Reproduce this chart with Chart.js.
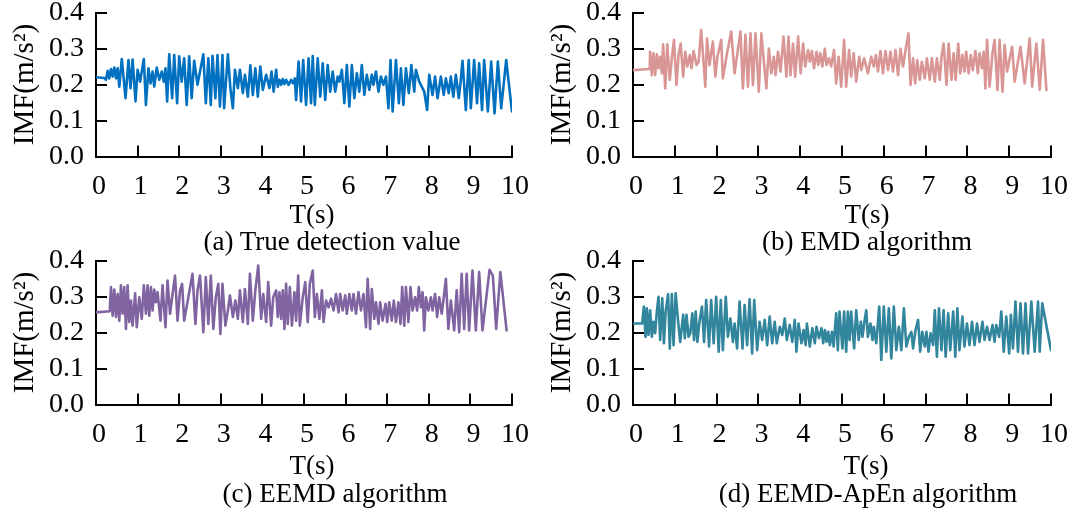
<!DOCTYPE html>
<html lang="en">
<head>
<meta charset="UTF-8">
<title>IMF comparison</title>
<script src="https://cdn.jsdelivr.net/npm/chart.js"></script>
<style>
    body { margin: 0; background: #fff; }
    #wrap { position: relative; width: 1073px; height: 512px; overflow: hidden; }
    canvas { position: absolute; }
    .lbl {
        position: absolute;
        transform: translate(-50%, -50%);
        font-family: "Liberation Serif", "Times New Roman", serif;
        color: #000;
        white-space: nowrap;
        line-height: 1;
    }
    .axis { font-size: 27px; }
    .cap { font-size: 27px; }
</style>
</head>
<body>
<div id="wrap">
    <canvas id="chartA" width="536" height="205" style="left:0;top:0"></canvas>
    <canvas id="chartB" width="536" height="205" style="left:537px;top:0"></canvas>
    <canvas id="chartC" width="536" height="205" style="left:0;top:248px"></canvas>
    <canvas id="chartD" width="536" height="205" style="left:537px;top:248px"></canvas>

    <div class="lbl axis" style="left:312px;top:214px">T(s)</div>
    <div class="lbl cap" style="left:332px;top:241px">(a) True detection value</div>
    <div class="lbl axis" style="left:867px;top:214px">T(s)</div>
    <div class="lbl cap" style="left:867px;top:241px">(b) EMD algorithm</div>
    <div class="lbl axis" style="left:312px;top:465px">T(s)</div>
    <div class="lbl cap" style="left:335px;top:493px">(c) EEMD algorithm</div>
    <div class="lbl axis" style="left:866px;top:465px">T(s)</div>
    <div class="lbl cap" style="left:868px;top:493px">(d) EEMD-ApEn algorithm</div>
</div>

<script>
    // (a) true detection value
    const timeA = [0, 0.20, 0.24, 0.28, 0.32, 0.36, 0.40, 0.44, 0.48, 0.52,
        0.56, 0.62, 0.71, 0.78, 0.83, 0.88, 0.95, 1.00, 1.06, 1.15,
        1.20, 1.26, 1.31, 1.36, 1.40, 1.46, 1.52, 1.58, 1.63, 1.67,
        1.71, 1.76, 1.83, 1.88, 1.95, 2.00, 2.06, 2.12, 2.18, 2.24,
        2.30, 2.36, 2.44, 2.58, 2.64, 2.70, 2.76, 2.80, 2.87, 2.92,
        2.98, 3.04, 3.08, 3.17, 3.23, 3.29, 3.34, 3.41, 3.46, 3.53,
        3.58, 3.65, 3.71, 3.77, 3.83, 3.89, 3.95, 4.01, 4.09, 4.17,
        4.22, 4.27, 4.33, 4.37, 4.41, 4.45, 4.49, 4.53, 4.57, 4.63,
        4.69, 4.74, 4.78, 4.81, 4.87, 4.93, 4.98, 5.05, 5.11, 5.17,
        5.21, 5.26, 5.33, 5.39, 5.45, 5.51, 5.57, 5.63, 5.69, 5.75,
        5.81, 5.85, 5.91, 5.97, 6.03, 6.09, 6.15, 6.21, 6.27, 6.33,
        6.39, 6.45, 6.51, 6.57, 6.63, 6.67, 6.73, 6.79, 6.85, 6.91,
        6.97, 7.03, 7.08, 7.13, 7.21, 7.28, 7.33, 7.39, 7.45, 7.52,
        7.58, 7.65, 7.69, 7.77, 7.89, 7.96, 8.01, 8.09, 8.15, 8.21,
        8.29, 8.36, 8.41, 8.48, 8.53, 8.59, 8.65, 8.72, 8.77, 8.81,
        8.89, 8.96, 9.01, 9.09, 9.16, 9.21, 9.28, 9.33, 9.42, 9.50,
        9.58, 9.66, 9.74, 9.86, 10.00];
    const imfTrue = [0.220, 0.218, 0.213, 0.238, 0.217, 0.243, 0.222, 0.247, 0.217, 0.245,
        0.194, 0.271, 0.162, 0.268, 0.190, 0.269, 0.153, 0.241, 0.208, 0.271,
        0.143, 0.245, 0.203, 0.236, 0.194, 0.247, 0.213, 0.236, 0.208, 0.245,
        0.153, 0.284, 0.162, 0.282, 0.148, 0.278, 0.208, 0.273, 0.143, 0.278,
        0.162, 0.266, 0.199, 0.284, 0.148, 0.273, 0.143, 0.280, 0.162, 0.282,
        0.139, 0.282, 0.134, 0.284, 0.190, 0.134, 0.241, 0.190, 0.241, 0.176,
        0.227, 0.166, 0.253, 0.171, 0.245, 0.166, 0.250, 0.185, 0.227, 0.190,
        0.236, 0.180, 0.241, 0.194, 0.213, 0.199, 0.215, 0.201, 0.213, 0.199,
        0.213, 0.203, 0.217, 0.157, 0.264, 0.153, 0.268, 0.143, 0.273, 0.148,
        0.279, 0.143, 0.273, 0.166, 0.259, 0.157, 0.254, 0.180, 0.236, 0.180,
        0.222, 0.208, 0.241, 0.148, 0.254, 0.139, 0.254, 0.162, 0.231, 0.180,
        0.254, 0.171, 0.227, 0.185, 0.227, 0.199, 0.236, 0.180, 0.222, 0.199,
        0.222, 0.134, 0.268, 0.125, 0.268, 0.148, 0.245, 0.143, 0.245, 0.176,
        0.254, 0.180, 0.241, 0.208, 0.180, 0.129, 0.227, 0.171, 0.222, 0.162,
        0.222, 0.171, 0.217, 0.176, 0.222, 0.166, 0.227, 0.162, 0.213, 0.266,
        0.129, 0.268, 0.134, 0.268, 0.148, 0.259, 0.129, 0.268, 0.125, 0.264,
        0.120, 0.264, 0.134, 0.268, 0.125];

    // (b) EMD algorithm
    const timeB = [0, 0.40, 0.41, 0.45, 0.49, 0.53, 0.57, 0.61, 0.65, 0.69,
        0.72, 0.77, 0.82, 0.88, 0.93, 0.98, 1.04, 1.09, 1.14, 1.20,
        1.25, 1.30, 1.36, 1.40, 1.45, 1.52, 1.57, 1.63, 1.73, 1.77,
        1.83, 1.91, 1.97, 2.02, 2.11, 2.15, 2.25, 2.35, 2.43, 2.57,
        2.63, 2.69, 2.75, 2.81, 2.87, 2.93, 3.01, 3.07, 3.19, 3.25,
        3.31, 3.37, 3.41, 3.47, 3.53, 3.60, 3.67, 3.72, 3.77, 3.83,
        3.88, 3.95, 4.01, 4.07, 4.12, 4.19, 4.23, 4.28, 4.33, 4.39,
        4.43, 4.48, 4.53, 4.59, 4.63, 4.69, 4.74, 4.81, 4.86, 4.92,
        4.98, 5.05, 5.10, 5.17, 5.22, 5.28, 5.34, 5.41, 5.46, 5.53,
        5.62, 5.70, 5.76, 5.81, 5.86, 5.92, 5.98, 6.04, 6.10, 6.16,
        6.22, 6.28, 6.34, 6.40, 6.46, 6.52, 6.59, 6.64, 6.70, 6.75,
        6.80, 6.86, 6.91, 6.98, 7.03, 7.10, 7.15, 7.22, 7.27, 7.34,
        7.38, 7.43, 7.50, 7.55, 7.62, 7.67, 7.72, 7.78, 7.83, 7.88,
        7.93, 7.97, 8.03, 8.08, 8.13, 8.19, 8.25, 8.29, 8.35, 8.39,
        8.43, 8.47, 8.53, 8.60, 8.65, 8.72, 8.77, 8.84, 8.89, 8.95,
        9.07, 9.13, 9.27, 9.37, 9.49, 9.55, 9.65, 9.73, 9.81, 9.89];
    const imfEmd = [0.240, 0.243, 0.291, 0.226, 0.287, 0.226, 0.284, 0.245, 0.277, 0.231,
        0.312, 0.189, 0.312, 0.213, 0.273, 0.324, 0.199, 0.282, 0.314, 0.222,
        0.291, 0.250, 0.282, 0.245, 0.293, 0.254, 0.263, 0.351, 0.194, 0.328,
        0.254, 0.319, 0.222, 0.277, 0.324, 0.217, 0.287, 0.347, 0.231, 0.347,
        0.189, 0.338, 0.194, 0.342, 0.199, 0.342, 0.180, 0.342, 0.189, 0.300,
        0.231, 0.277, 0.226, 0.291, 0.236, 0.333, 0.222, 0.333, 0.226, 0.314,
        0.222, 0.333, 0.231, 0.314, 0.250, 0.296, 0.263, 0.293, 0.245, 0.291,
        0.254, 0.287, 0.250, 0.299, 0.254, 0.273, 0.250, 0.296, 0.203, 0.277,
        0.194, 0.324, 0.194, 0.296, 0.222, 0.287, 0.208, 0.277, 0.240, 0.273,
        0.231, 0.277, 0.250, 0.282, 0.236, 0.293, 0.231, 0.293, 0.240, 0.291,
        0.236, 0.296, 0.226, 0.299, 0.250, 0.296, 0.342, 0.199, 0.273, 0.203,
        0.268, 0.213, 0.263, 0.217, 0.273, 0.213, 0.273, 0.208, 0.273, 0.213,
        0.277, 0.314, 0.199, 0.314, 0.213, 0.287, 0.213, 0.314, 0.231, 0.282,
        0.236, 0.291, 0.231, 0.282, 0.240, 0.293, 0.231, 0.287, 0.245, 0.291,
        0.189, 0.324, 0.194, 0.287, 0.324, 0.185, 0.324, 0.180, 0.310, 0.236,
        0.305, 0.208, 0.305, 0.203, 0.328, 0.194, 0.314, 0.185, 0.324, 0.185];

    // (c) EEMD algorithm
    const timeC = [0, 0.33, 0.36, 0.40, 0.44, 0.48, 0.52, 0.56, 0.60, 0.64,
        0.68, 0.72, 0.76, 0.80, 0.84, 0.88, 0.94, 0.98, 1.04, 1.10,
        1.15, 1.20, 1.24, 1.28, 1.32, 1.36, 1.40, 1.44, 1.48, 1.55,
        1.60, 1.67, 1.72, 1.78, 1.84, 1.90, 1.96, 2.02, 2.07, 2.12,
        2.32, 2.39, 2.44, 2.50, 2.58, 2.64, 2.70, 2.76, 2.82, 2.88,
        2.94, 2.99, 3.04, 3.11, 3.17, 3.22, 3.29, 3.35, 3.41, 3.46,
        3.53, 3.58, 3.65, 3.70, 3.77, 3.83, 3.90, 3.97, 4.02, 4.09,
        4.14, 4.21, 4.26, 4.33, 4.37, 4.41, 4.45, 4.49, 4.53, 4.57,
        4.61, 4.66, 4.71, 4.77, 4.81, 4.86, 4.90, 4.97, 5.03, 5.09,
        5.14, 5.21, 5.26, 5.31, 5.37, 5.43, 5.47, 5.53, 5.59, 5.65,
        5.71, 5.77, 5.83, 5.87, 5.93, 5.99, 6.03, 6.09, 6.15, 6.19,
        6.25, 6.31, 6.37, 6.43, 6.49, 6.53, 6.59, 6.63, 6.69, 6.73,
        6.79, 6.83, 6.89, 6.96, 7.00, 7.05, 7.11, 7.16, 7.21, 7.27,
        7.32, 7.36, 7.41, 7.45, 7.51, 7.56, 7.61, 7.67, 7.72, 7.76,
        7.81, 7.85, 7.89, 7.93, 7.99, 8.05, 8.09, 8.15, 8.20, 8.25,
        8.31, 8.37, 8.41, 8.47, 8.53, 8.61, 8.67, 8.73, 8.79, 8.85,
        8.91, 8.97, 9.05, 9.13, 9.21, 9.29, 9.46, 9.54, 9.62, 9.72,
        9.87];
    const imfEemd = [0.256, 0.259, 0.326, 0.247, 0.319, 0.243, 0.307, 0.233, 0.331, 0.252,
        0.326, 0.210, 0.331, 0.229, 0.289, 0.219, 0.309, 0.215, 0.298, 0.238,
        0.331, 0.252, 0.331, 0.247, 0.326, 0.261, 0.319, 0.284, 0.312, 0.233,
        0.331, 0.215, 0.344, 0.252, 0.307, 0.358, 0.233, 0.317, 0.335, 0.233,
        0.363, 0.224, 0.317, 0.358, 0.201, 0.354, 0.224, 0.358, 0.210, 0.298,
        0.335, 0.196, 0.335, 0.219, 0.261, 0.303, 0.243, 0.289, 0.238, 0.317,
        0.229, 0.321, 0.224, 0.363, 0.233, 0.317, 0.386, 0.238, 0.307, 0.229,
        0.340, 0.219, 0.298, 0.317, 0.243, 0.312, 0.238, 0.317, 0.210, 0.335,
        0.224, 0.326, 0.219, 0.312, 0.233, 0.358, 0.219, 0.298, 0.340, 0.229,
        0.335, 0.372, 0.243, 0.307, 0.238, 0.317, 0.229, 0.289, 0.270, 0.294,
        0.261, 0.307, 0.256, 0.307, 0.261, 0.303, 0.252, 0.307, 0.261, 0.307,
        0.252, 0.312, 0.261, 0.307, 0.215, 0.349, 0.210, 0.321, 0.238, 0.284,
        0.224, 0.284, 0.233, 0.280, 0.229, 0.284, 0.233, 0.289, 0.229, 0.284,
        0.224, 0.326, 0.219, 0.326, 0.229, 0.326, 0.261, 0.298, 0.261, 0.326,
        0.270, 0.312, 0.206, 0.298, 0.261, 0.298, 0.261, 0.307, 0.243, 0.298,
        0.252, 0.307, 0.349, 0.210, 0.289, 0.206, 0.317, 0.201, 0.363, 0.210,
        0.363, 0.206, 0.372, 0.206, 0.368, 0.206, 0.374, 0.358, 0.210, 0.368,
        0.206];

    // (d) EEMD-ApEn algorithm
    const timeD = [0, 0.22, 0.26, 0.30, 0.33, 0.37, 0.41, 0.45, 0.49, 0.53,
        0.57, 0.61, 0.65, 0.70, 0.74, 0.78, 0.84, 0.88, 0.93, 0.97,
        1.02, 1.08, 1.13, 1.20, 1.24, 1.28, 1.33, 1.37, 1.42, 1.46,
        1.50, 1.54, 1.59, 1.65, 1.70, 1.75, 1.82, 1.87, 1.93, 1.99,
        2.05, 2.10, 2.15, 2.22, 2.27, 2.33, 2.39, 2.43, 2.49, 2.55,
        2.62, 2.67, 2.73, 2.79, 2.85, 2.90, 2.97, 3.03, 3.09, 3.15,
        3.21, 3.27, 3.33, 3.39, 3.44, 3.51, 3.57, 3.63, 3.68, 3.75,
        3.81, 3.87, 3.91, 3.96, 4.03, 4.08, 4.13, 4.16, 4.23, 4.29,
        4.35, 4.39, 4.45, 4.51, 4.55, 4.59, 4.63, 4.67, 4.71, 4.76,
        4.80, 4.86, 4.90, 4.94, 5.01, 5.05, 5.10, 5.14, 5.18, 5.22,
        5.29, 5.34, 5.40, 5.45, 5.49, 5.53, 5.58, 5.62, 5.68, 5.73,
        5.76, 5.82, 5.89, 5.94, 6.00, 6.06, 6.12, 6.18, 6.24, 6.30,
        6.36, 6.42, 6.48, 6.54, 6.60, 6.66, 6.70, 6.76, 6.82, 6.87,
        6.92, 6.98, 7.02, 7.07, 7.12, 7.18, 7.22, 7.27, 7.32, 7.38,
        7.43, 7.48, 7.54, 7.59, 7.66, 7.71, 7.76, 7.81, 7.88, 7.93,
        7.99, 8.05, 8.11, 8.17, 8.23, 8.29, 8.36, 8.41, 8.47, 8.53,
        8.60, 8.65, 8.69, 8.76, 8.81, 8.87, 8.93, 9.00, 9.04, 9.09,
        9.15, 9.21, 9.27, 9.33, 9.39, 9.45, 9.53, 9.61, 9.69, 9.73,
        9.79, 10.00];
    const imfEemdApen = [0.225, 0.225, 0.272, 0.188, 0.267, 0.193, 0.262, 0.188, 0.230, 0.198,
        0.258, 0.299, 0.179, 0.295, 0.170, 0.258, 0.307, 0.156, 0.307, 0.165,
        0.309, 0.230, 0.174, 0.249, 0.184, 0.249, 0.188, 0.198, 0.253, 0.179,
        0.258, 0.174, 0.230, 0.272, 0.174, 0.290, 0.161, 0.290, 0.170, 0.299,
        0.147, 0.290, 0.151, 0.299, 0.188, 0.239, 0.174, 0.225, 0.156, 0.286,
        0.156, 0.276, 0.165, 0.292, 0.142, 0.290, 0.151, 0.230, 0.179, 0.235,
        0.165, 0.244, 0.170, 0.230, 0.170, 0.216, 0.193, 0.239, 0.179, 0.221,
        0.174, 0.235, 0.147, 0.225, 0.170, 0.207, 0.165, 0.225, 0.161, 0.212,
        0.170, 0.216, 0.184, 0.212, 0.170, 0.207, 0.174, 0.202, 0.165, 0.202,
        0.161, 0.253, 0.151, 0.258, 0.156, 0.258, 0.147, 0.258, 0.179, 0.258,
        0.156, 0.262, 0.179, 0.230, 0.188, 0.225, 0.262, 0.188, 0.225, 0.179,
        0.216, 0.170, 0.272, 0.124, 0.272, 0.147, 0.267, 0.128, 0.272, 0.151,
        0.216, 0.151, 0.267, 0.161, 0.188, 0.202, 0.156, 0.207, 0.235, 0.147,
        0.202, 0.161, 0.202, 0.147, 0.198, 0.165, 0.262, 0.133, 0.267, 0.151,
        0.262, 0.133, 0.253, 0.151, 0.258, 0.133, 0.267, 0.151, 0.244, 0.161,
        0.225, 0.165, 0.230, 0.165, 0.225, 0.174, 0.230, 0.179, 0.216, 0.179,
        0.221, 0.174, 0.221, 0.188, 0.258, 0.147, 0.244, 0.142, 0.249, 0.156,
        0.286, 0.147, 0.281, 0.142, 0.281, 0.142, 0.286, 0.147, 0.286, 0.147,
        0.281, 0.151];

    const tickFont = { family: 'Liberation Serif', size: 28, lineHeight: 1 };

    // short tick marks pointing into the plot, like the original figure
    const inwardTicks = {
        id: 'inwardTicks',
        afterDraw(chart) {
            const { ctx, chartArea: a, scales: { x, y } } = chart;
            ctx.save();
            ctx.strokeStyle = '#000';
            ctx.lineWidth = 2;
            ctx.beginPath();
            x.ticks.forEach(t => {
                if (t.value === 0) return;
                const px = Math.round(x.getPixelForValue(t.value));
                ctx.moveTo(px, a.bottom);
                ctx.lineTo(px, a.bottom - 11);
            });
            y.ticks.forEach(t => {
                if (t.value === 0) return;
                const py = Math.round(y.getPixelForValue(t.value));
                ctx.moveTo(a.left, py);
                ctx.lineTo(a.left + 11, py);
            });
            ctx.stroke();
            ctx.restore();
        }
    };

    function dibujarPanel(id, times, values, color, padRight) {
        new Chart(document.getElementById(id), {
            type: 'line',
            data: {
                datasets: [{
                    data: times.map((t, i) => ({ x: t, y: values[i] })),
                    borderColor: color,
                    borderWidth: 2.6,
                    borderJoinStyle: 'round',
                    borderCapStyle: 'round',
                    pointRadius: 0,
                    tension: 0,
                    fill: false
                }]
            },
            options: {
                responsive: false,
                animation: false,
                layout: { padding: { top: 12.5, right: padRight, bottom: 0, left: 0 } },
                plugins: { legend: { display: false }, tooltip: { enabled: false } },
                scales: {
                    x: {
                        type: 'linear',
                        min: 0,
                        max: 10,
                        grid: { display: false, drawTicks: false },
                        border: { display: true, color: '#000', width: 2 },
                        ticks: { stepSize: 1, padding: 16, labelOffset: 3, color: '#000', font: tickFont, maxRotation: 0, autoSkip: false },
                        afterFit: s => { s.height = 48.5; s.paddingLeft = 0; s.paddingRight = 0; }
                    },
                    y: {
                        min: 0,
                        max: 0.4,
                        grid: { display: false, drawTicks: false },
                        border: { display: true, color: '#000', width: 2 },
                        ticks: { stepSize: 0.1, padding: 12, autoSkip: false, color: '#000', font: tickFont, callback: v => v.toFixed(1) },
                        title: {
                            display: true,
                            text: 'IMF(m/s²)',
                            color: '#000',
                            font: { family: 'Liberation Serif', size: 29 },
                            padding: { top: 8, bottom: 0 }
                        },
                        afterFit: s => { s.width = 96; s.paddingTop = 0; s.paddingBottom = 0; }
                    }
                }
            },
            plugins: [inwardTicks]
        });
    }

    dibujarPanel('chartA', timeA, imfTrue, '#0070C0', 24);
    dibujarPanel('chartB', timeB, imfEmd, '#D99694', 22);
    dibujarPanel('chartC', timeC, imfEemd, '#8064A2', 24);
    dibujarPanel('chartD', timeD, imfEemdApen, '#31859C', 22);
</script>
</body>
</html>
